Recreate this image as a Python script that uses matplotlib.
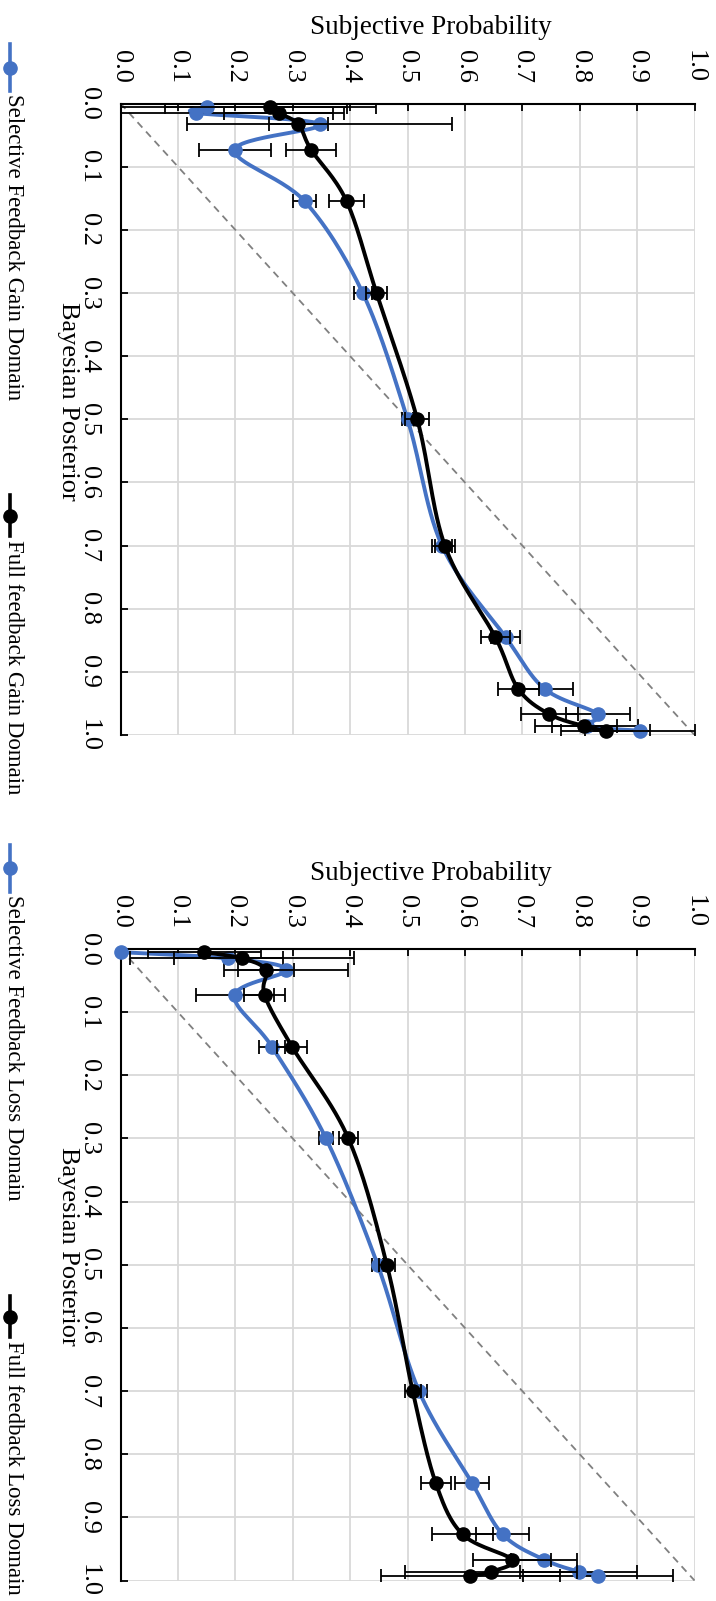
import numpy as np
import matplotlib.pyplot as plt
from matplotlib.lines import Line2D

plt.rcParams['font.family'] = ['Liberation Serif', 'DejaVu Serif']

W, H = 716, 1601
BLUE = '#4472C4'

# Bayesian posterior bins (shared by every series)
posterior = [0.005, 0.015, 0.033, 0.073, 0.155, 0.3, 0.5, 0.7, 0.845, 0.927, 0.967, 0.986, 0.993]

# gain domain: mean subjective probability and error half-widths
gain_selective = [0.151, 0.132, 0.347, 0.199, 0.321, 0.422, 0.500, 0.560, 0.671, 0.739, 0.832, 0.812, 0.905]
gain_selective_err = [0.244, 0.257, 0.231, 0.063, 0.020, 0.016, 0.010, 0.018, 0.025, 0.049, 0.056, 0.090, 0.095]
gain_full = [0.261, 0.276, 0.310, 0.332, 0.394, 0.446, 0.517, 0.565, 0.653, 0.693, 0.747, 0.808, 0.845]
gain_full_err = [0.184, 0.095, 0.052, 0.044, 0.030, 0.019, 0.021, 0.017, 0.025, 0.036, 0.050, 0.057, 0.077]

# loss domain
loss_selective = [0.000, 0.188, 0.289, 0.199, 0.264, 0.358, 0.448, 0.520, 0.612, 0.666, 0.738, 0.798, 0.832]
loss_selective_err = [0.000, 0.095, 0.108, 0.068, 0.022, 0.012, 0.009, 0.014, 0.030, 0.046, 0.058, 0.102, 0.131]
loss_full = [0.146, 0.212, 0.253, 0.251, 0.299, 0.397, 0.464, 0.509, 0.549, 0.596, 0.682, 0.646, 0.609]
loss_full_err = [0.098, 0.195, 0.049, 0.036, 0.026, 0.016, 0.014, 0.014, 0.026, 0.053, 0.068, 0.150, 0.156]

ticks = np.round(np.arange(0, 1.01, 0.1), 1)
tick_labels = [f"{t:.1f}" for t in ticks]

# panel name, series, plot-area top (px) and legend offset from that top (px)
panels = [
    ("Gain", gain_selective, gain_selective_err, gain_full, gain_full_err, 103.5, 0),
    ("Loss", loss_selective, loss_selective_err, loss_full, loss_full_err, 949.0, -45),
]


def smooth(xs, ys, sx, sy, n=30):
    # Bezier smoothing through the points (Catmull-Rom tangents), done in pixel space
    p = np.column_stack([np.asarray(xs) * sx, np.asarray(ys) * sy])
    ext = np.vstack([p[0], p, p[-1]])
    t = np.linspace(0, 1, n)[:, None]
    segs = []
    for i in range(len(p) - 1):
        p0, p1, p2, p3 = ext[i], ext[i + 1], ext[i + 2], ext[i + 3]
        c1 = p1 + (p2 - p0) / 6
        c2 = p2 - (p3 - p1) / 6
        segs.append((1 - t) ** 3 * p1 + 3 * (1 - t) ** 2 * t * c1 + 3 * (1 - t) * t ** 2 * c2 + t ** 3 * p2)
    pts = np.vstack(segs)
    return pts[:, 0] / sx, pts[:, 1] / sy


def px_axes(fig, left, top, right, bottom):
    return fig.add_axes([left / W, 1 - bottom / H, (right - left) / W, (bottom - top) / H])


def legend_entry(fig, x, y0, y1, color, label, text_top):
    fig.add_artist(Line2D([x / W, x / W], [1 - y0 / H, 1 - y1 / H], transform=fig.transFigure,
                          color=color, lw=2.6))
    fig.add_artist(Line2D([x / W], [1 - (y0 + y1) / 2 / H], transform=fig.transFigure,
                          color=color, marker='o', ms=9.5, lw=0))
    fig.text((x + 3) / W, 1 - text_top / H, label, rotation=-90, ha='center', va='top', fontsize=16.5)


fig = plt.figure(figsize=(W / 100, H / 100), dpi=100)

for domain, sel, sel_err, full, full_err, top, leg in panels:
    left, right, bottom = 120.5, 694.5, top + 631.5
    ax = px_axes(fig, left, top, right, bottom)
    sx, sy = right - left, bottom - top

    ax.plot([0, 1], [0, 1], color='#808080', lw=1.3, ls=(0, (4, 3)), zorder=1)
    for k, (vals, errs, col) in enumerate(((sel, sel_err, BLUE), (full, full_err, 'black'))):
        z = 2 + 3 * k
        cx, cy = smooth(vals, posterior, sx, sy)
        ax.plot(cx, cy, color=col, lw=2.8, zorder=z, solid_capstyle='round')
        ax.errorbar(vals, posterior, xerr=errs, fmt='none', ecolor='black',
                    elinewidth=1.3, capsize=5, capthick=1.3, zorder=z + 1)
        ax.plot(vals, posterior, 'o', color=col, ms=9.5, zorder=z + 2, clip_on=False)

    ax.set_xlim(0, 1)
    ax.set_ylim(1, 0)
    ax.set_xticks(ticks)
    ax.set_xticklabels(tick_labels)
    ax.set_yticks(ticks)
    ax.set_yticklabels(tick_labels)
    ax.xaxis.tick_top()
    ax.grid(color='#D9D9D9', lw=1.3)
    ax.set_axisbelow(True)
    for side in ('right', 'bottom'):
        ax.spines[side].set_visible(False)
    for side in ('left', 'top'):
        ax.spines[side].set_linewidth(1.5)
    ax.tick_params(axis='both', direction='in', length=5, width=1.3, labelsize=19, pad=15)
    ax.tick_params(axis='x', labelrotation=-90)
    ax.tick_params(axis='y', labelrotation=-90)
    for lab in ax.get_yticklabels():
        lab.set_va('center')

    fig.text(431 / W, 1 - (top - 76) / H, "Subjective Probability", ha='center', va='center', fontsize=19.5)
    fig.text(68 / W, 1 - (top + sy / 2 - 18) / H, "Bayesian Posterior", rotation=-90,
             ha='center', va='center', fontsize=19)

    legend_entry(fig, 10, top + leg - 59, top + leg - 12, BLUE,
                 f"Selective Feedback {domain} Domain", top + leg - 9)
    legend_entry(fig, 10, top + leg + 392, top + leg + 433, 'black',
                 f"Full feedback {domain} Domain", top + leg + 437)

fig.savefig('out.png', dpi=100)
